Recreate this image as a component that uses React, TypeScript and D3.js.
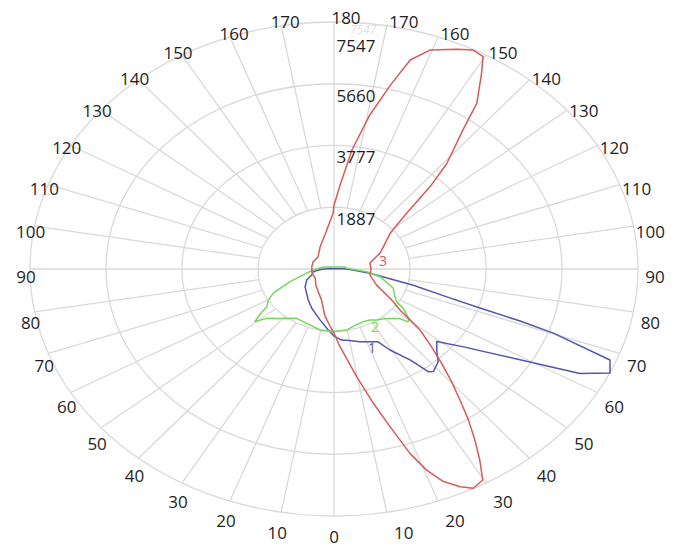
import React from 'react';
import * as d3 from 'd3';

// Radial scale rings (candela values)
const ringValues = [1887, 3777, 5660, 7547];
// Angle tick labels (degrees from nadir, shown on both sides)
const angleTicks = [0, 10, 20, 30, 40, 50, 60, 70, 80, 90, 100, 110, 120, 130, 140, 150, 160, 170, 180];

// Series data: [signed angle (deg, + = right side, - = left side), intensity]
const series1: [number, number][] = [
  [-180, 10], [-150, 10], [-120, 20], [-100, 80], [-88, 300], [-83, 450], [-80.8, 520],
  [-71.7, 583], [-63.4, 757], [-52.8, 902], [-34, 1144], [-24.7, 1322], [-12.6, 1593],
  [-4.4, 1870], [0, 2050], [5, 2180], [10, 2220], [16, 2310], [22, 2400], [26, 2470],
  [29.3, 2838], [34.2, 3360], [36.7, 3915], [38.2, 3990], [42.4, 3836], [45.3, 3590],
  [49, 3381], [53.5, 4000], [58.5, 5225], [62.4, 6888], [65.1, 7556], [67.9, 7394],
  [70.2, 5787], [71, 4886], [71.8, 3815], [73.1, 2927], [75.8, 2032], [81.7, 904],
  [84, 600], [88, 400], [92, 250], [100, 60], [120, 20], [150, 10],
];
const series2: [number, number][] = [
  [-180, 60], [-150, 70], [-130, 95], [-115, 150], [-105, 230], [-97, 330], [-90, 423],
  [-86.6, 515], [-79.3, 690], [-70.6, 1157], [-63.9, 1678], [-59.7, 1888], [-55.3, 2030],
  [-53, 2300], [-50.7, 2538], [-47.9, 2250], [-41.6, 2018], [-31.6, 1770], [-22.2, 1793],
  [-10.5, 1896], [0, 1920], [9.6, 1888], [17, 1800], [24.3, 1765], [29.8, 1794],
  [34.3, 1884], [40.9, 1996], [47.3, 2228], [48.6, 2444], [50.5, 2420], [55, 2098],
  [57.3, 1849], [62, 1700], [68.2, 1586], [78.4, 1166], [84.2, 818], [90, 423], [94, 316],
  [100, 290], [105, 230], [115, 150], [130, 95], [150, 70],
];
const series3: [number, number][] = [
  [-179.3, 1713], [-167.7, 1063], [-152.7, 755], [-132.8, 541], [-112, 563], [-97, 556],
  [-77, 560], [-60, 540], [-40, 690], [-18, 1000], [-9, 1450], [-4, 1700], [0, 1965],
  [3.6, 2380], [9.7, 3337], [13.4, 4218], [16.1, 5013], [18.5, 5940], [20.5, 6560],
  [22.7, 7041], [25.2, 7350], [27.3, 7540], [29.8, 7430], [31.8, 6868], [33.8, 6287],
  [35.9, 5691], [38, 5079], [40.3, 4513], [42.8, 3932], [45.5, 3396], [48.9, 2835],
  [50.5, 2445], [52.6, 2060], [56.5, 1720], [65, 1167], [78.5, 910], [90, 920],
  [101.5, 909], [113, 1240], [119, 1400], [128, 1770], [133.4, 2480], [136.5, 3460],
  [139, 4270], [143, 5320], [145, 6180], [148.5, 7010], [150.3, 7470], [152.7, 7530],
  [155.6, 7370], [160.4, 7100], [163.5, 6660], [166, 5790], [169.3, 4790], [173, 3670],
  [176.6, 2570], [180, 1950],
];

const seriesNames = ['1', '2', '3'];
const seriesColors = ['#5555ad', '#74d85a', '#da5a5a'];
const seriesLabelAngles = [21.3, 29.9, 101];
const seriesLabelValues = [2591, 2045, 1240];

export default function App() {
  const W = 679, H = 548;
  const CX = 334, CY = 269, RX = 304, RY = 247;
  const maxV = ringValues[ringValues.length - 1];
  const r = d3.scaleLinear().domain([0, maxV]).range([0, 1]);
  const rad = (a: number) => (a * Math.PI) / 180;
  const toXY = (a: number, v: number): [number, number] => {
    const k = r(v);
    return [CX + RX * k * Math.sin(rad(a)), CY + RY * k * Math.cos(rad(a))];
  };
  const line = d3
    .line<[number, number]>()
    .x((d) => toXY(d[0], d[1])[0])
    .y((d) => toXY(d[0], d[1])[1])
    .curve(d3.curveLinearClosed);

  const allSeries = [series1, series2, series3];
  const grid = '#d9d9d9';
  const font = "'Open Sans', 'DejaVu Sans', sans-serif";
  const inner = r(ringValues[0]);

  const spokes: JSX.Element[] = [];
  angleTicks.forEach((t) => {
    if (t === 0 || t === 90 || t === 180) return;
    [-1, 1].forEach((s) => {
      const a = rad(t);
      spokes.push(
        <line
          key={`sp${t}_${s}`}
          x1={CX + s * RX * inner * Math.sin(a)}
          y1={CY + RY * inner * Math.cos(a)}
          x2={CX + s * RX * Math.sin(a)}
          y2={CY + RY * Math.cos(a)}
          stroke={grid}
          strokeWidth={1.3}
        />
      );
    });
  });

  const angleLabels: JSX.Element[] = [];
  angleTicks.forEach((t) => {
    const sides = t === 0 || t === 180 ? [0] : [-1, 1];
    sides.forEach((s) => {
      const a = rad(t);
      const x = s === 0 ? CX + (t === 180 ? 12 : 0) : CX + 6.5 + s * (10.5 + RX * Math.sin(a)) + (s < 0 && t > 150 ? 8 : 0);
      const y = CY + 8.5 + (RY + 12.5) * Math.cos(a);
      angleLabels.push(
        <text key={`al${t}_${s}`} x={x} y={y} dy="0.35em" textAnchor="middle" fontSize={17} fill="#1e1e1e" fontFamily={font}>
          {t}
        </text>
      );
    });
  });

  return (
    <svg width={W} height={H} style={{ position: 'absolute', left: 0, top: 0, background: '#fff' }}>
      <rect width={W} height={H} fill="#fff" />
      {ringValues.map((v) => (
        <ellipse key={`r${v}`} cx={CX} cy={CY} rx={RX * r(v)} ry={RY * r(v)} fill="none" stroke={grid} strokeWidth={1.3} />
      ))}
      {spokes}
      <line x1={CX - RX} y1={CY} x2={CX + RX} y2={CY} stroke={grid} strokeWidth={1.3} />
      <line x1={CX} y1={CY - RY} x2={CX} y2={CY + RY} stroke={grid} strokeWidth={1.3} />
      <text x={CX + 16} y={CY - RY + 8} dy="0.35em" fontSize={12} fill="#e0e0e0" fontFamily={font} fontStyle="italic">
        {ringValues[ringValues.length - 1]}
      </text>
      {allSeries.map((s, i) => (
        <path key={`s${i}`} d={line(s) || ''} fill="none" stroke={seriesColors[i]} strokeWidth={1.5} strokeLinejoin="round" />
      ))}
      {seriesNames.map((n, i) => {
        const [x, y] = toXY(seriesLabelAngles[i], seriesLabelValues[i]);
        return (
          <text key={`sl${i}`} x={x} y={y} dy="0.35em" textAnchor="middle" fontSize={14} fill={seriesColors[i]} fontFamily={font}>
            {n}
          </text>
        );
      })}
      {ringValues.map((v, i) => {
        const ry = CY - RY * r(v);
        const off = i === ringValues.length - 1 ? 24 : 12;
        return (
          <text key={`rl${v}`} x={CX + 22} y={ry + off} dy="0.35em" textAnchor="middle" fontSize={17} fill="#1e1e1e" fontFamily={font}>
            {v}
          </text>
        );
      })}
      {angleLabels}
    </svg>
  );
}
